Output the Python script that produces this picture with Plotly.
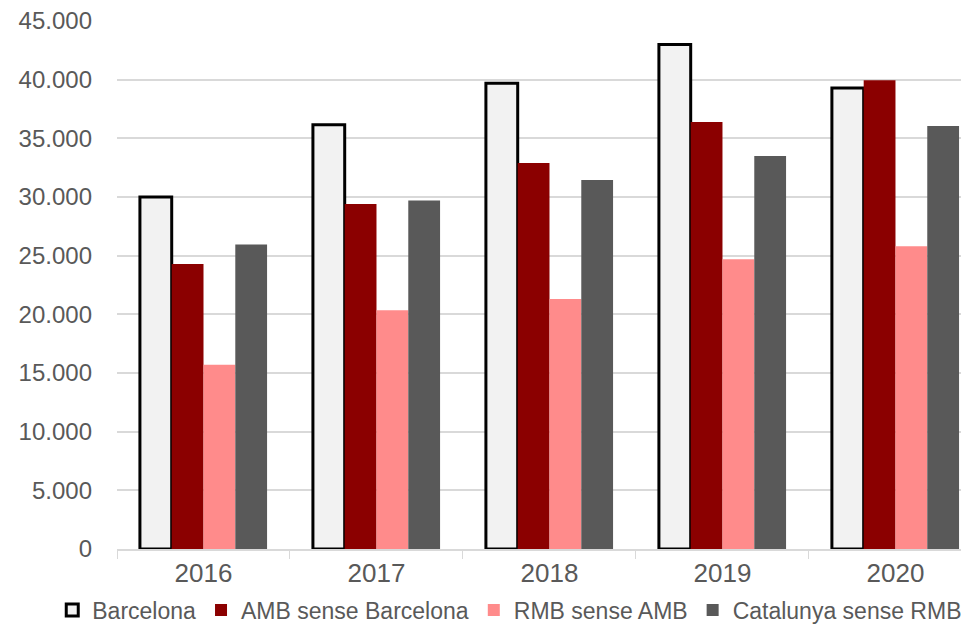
import plotly.graph_objects as go

years = ["2016", "2017", "2018", "2019", "2020"]
barcelona = [30000, 36150, 39700, 43000, 39300]
amb_sense_bcn = [24300, 29400, 32900, 36400, 39950]
rmb_sense_amb = [15700, 20350, 21300, 24700, 25800]
cat_sense_rmb = [25950, 29700, 31450, 33500, 36050]

fig = go.Figure()
fig.add_bar(x=years, y=barcelona, name="Barcelona",
            marker=dict(color="#f2f2f2", line=dict(color="black", width=3)))
fig.add_bar(x=years, y=amb_sense_bcn, name="AMB sense Barcelona",
            marker=dict(color="#8b0000", line=dict(width=0)))
fig.add_bar(x=years, y=rmb_sense_amb, name="RMB sense AMB",
            marker=dict(color="#ff8b8b", line=dict(width=0)))
fig.add_bar(x=years, y=cat_sense_rmb, name="Catalunya sense RMB",
            marker=dict(color="#595959", line=dict(width=0)))

# page body has an 8px default margin, so the figure is sized to fit the window
fig.update_layout(
    width=961, height=620,
    margin=dict(l=109, r=0, t=13, b=79, autoexpand=False),
    plot_bgcolor="white", paper_bgcolor="white",
    separators=",.",
    barmode="group", bargap=0.265, bargroupgap=0,
    font=dict(family="Liberation Sans, Arial", size=24, color="#595959"),
    legend=dict(orientation="h", x=-0.076, xanchor="left", y=-0.075, yanchor="top",
                font=dict(size=23), itemwidth=30, tracegroupgap=0),
    showlegend=True,
)
fig.update_xaxes(type="category", range=[-0.5, 4.425], tickson="boundaries",
                 ticks="outside", ticklen=8, tickcolor="#d9d9d9",
                 showline=True, linecolor="#d9d9d9", linewidth=1.5,
                 showgrid=False, tickfont=dict(size=26, color="#595959"))
fig.update_yaxes(range=[0, 45000], dtick=5000, tickformat=",d",
                 showgrid=True, gridcolor="#d9d9d9", gridwidth=1.5,
                 zeroline=False, ticks="", ticklabelstandoff=24,
                 ticklabeloverflow="allow",
                 tickfont=dict(size=24, color="#595959"))

fig.write_html("out.html")
